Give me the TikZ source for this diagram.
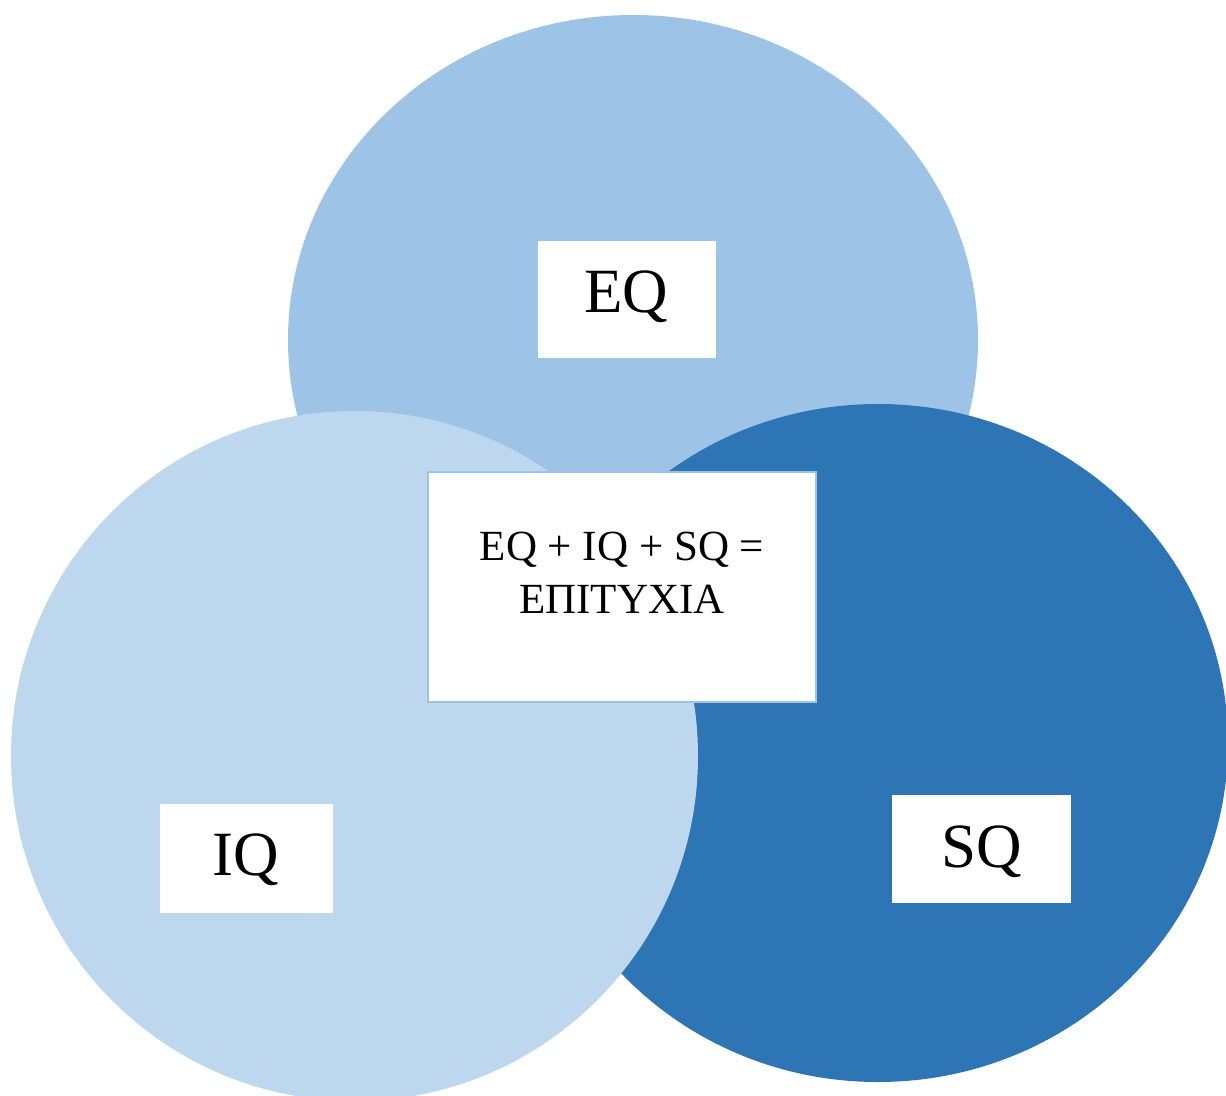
\documentclass[tikz,border=0pt]{standalone}
\usepackage{fontspec}
\setmainfont{Liberation Serif}
\usetikzlibrary{shapes.geometric}
\definecolor{eqblue}{HTML}{9DC3E6}
\definecolor{iqblue}{HTML}{BDD7EE}
\definecolor{sqblue}{HTML}{2E75B6}
\begin{document}
\begin{tikzpicture}[x=1pt,y=-1pt,
  blob/.style={ellipse, draw=none, inner sep=0pt, outer sep=0pt},
  whitebox/.style={rectangle, fill=white, draw=none, inner sep=0pt, outer sep=0pt},
  bigtext/.style={anchor=base, inner sep=0pt, font=\fontsize{63}{70}\selectfont},
  midtext/.style={anchor=base, inner sep=0pt, align=center, font=\fontsize{43}{53}\selectfont}]
\useasboundingbox (0,0) rectangle (1226,1095);
% circles
\node[blob, fill=eqblue, minimum width=690pt, minimum height=650pt] (eqc) at (633,340) {};
\node[blob, fill=sqblue, minimum width=700pt, minimum height=678pt] (sqc) at (878,743) {};
\node[blob, fill=iqblue, minimum width=687pt, minimum height=690pt] (iqc) at (354.5,756) {};
% boxes
\node[whitebox, minimum width=178pt, minimum height=117pt] (eqbox) at (627,299.5) {};
\node[whitebox, minimum width=173pt, minimum height=109pt] (iqbox) at (246.5,858.5) {};
\node[whitebox, minimum width=179pt, minimum height=108pt] (sqbox) at (981.5,849) {};
\node[whitebox, draw=eqblue, line width=2pt, minimum width=388pt, minimum height=230pt] (centerbox) at (622,587) {};
% texts
\node[bigtext] (eqlabel) at (626,312) {EQ};
\node[bigtext] (iqlabel) at (245.5,875) {IQ};
\node[bigtext] (sqlabel) at (981.5,867) {SQ};
\node[midtext] (sumlabel) at (622,560) {EQ + IQ + SQ =};
\node[midtext] (succlabel) at (622,613) {ΕΠΙΤΥΧΙΑ};
\end{tikzpicture}
\end{document}
